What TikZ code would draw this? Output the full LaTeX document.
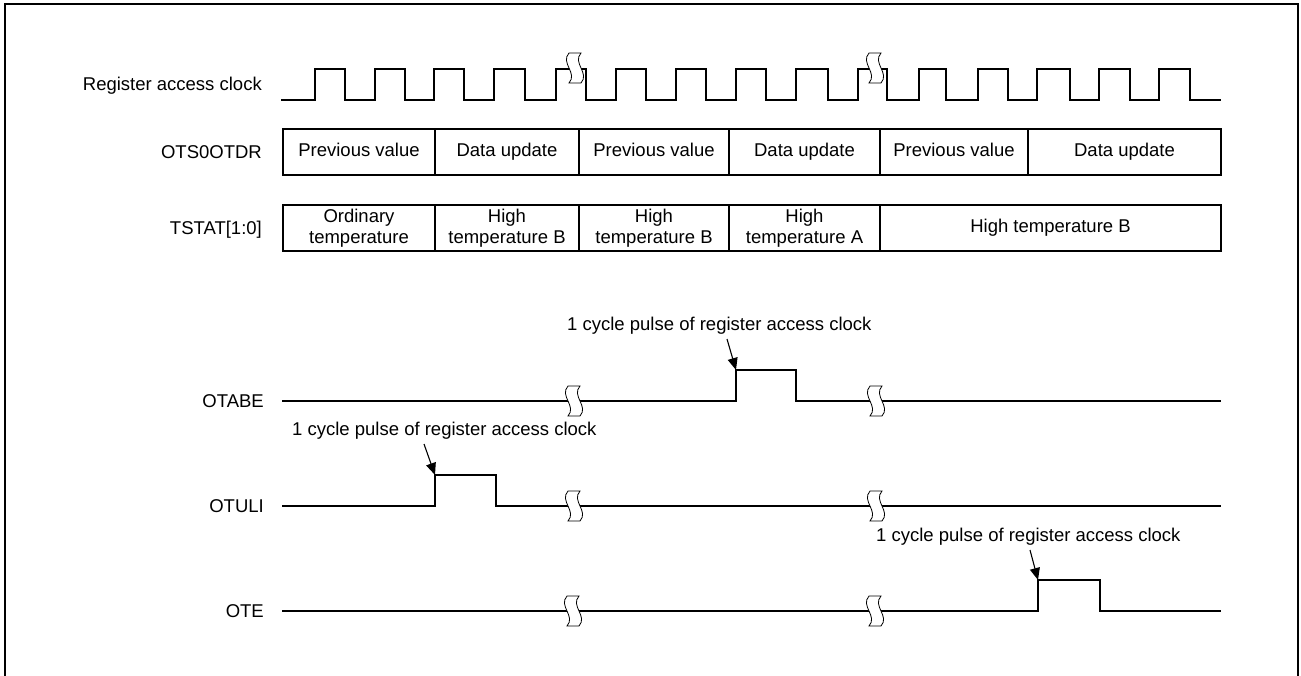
\documentclass[tikz,border=0pt]{standalone}
\usepackage{fontspec}
\setmainfont{Liberation Sans}
\usetikzlibrary{arrows.meta}
\tikzset{
  sig/.style={line width=2.2pt, line join=miter, line cap=rect},
  lbl/.style={anchor=base east, inner sep=0pt, font=\fontsize{18.5}{21}\selectfont},
  ann/.style={anchor=base west, inner sep=0pt, font=\fontsize{18.5}{21}\selectfont},
  cell/.style={draw, line width=2pt, inner sep=0pt, outer sep=0pt, minimum height=46pt, align=center, font=\fontsize{18.5}{21}\selectfont},
  brk/.style={fill=white, draw, line width=0.8pt},
  brkpic/.pic={\path[brk] (-6,-15) .. controls (-15,-5) and (3,5) .. (-6,15) -- (6,15) .. controls (15,5) and (-3,-5) .. (6,-15) -- cycle;},
  arr/.style={-{Triangle[length=12pt,width=10pt]}, line width=1.1pt},
}
\begin{document}
\begin{tikzpicture}[x=1pt,y=-1pt]
\useasboundingbox (0,0) rectangle (1301,675);
% frame
\draw[line width=2.5pt] (5,680) -- (5,4) -- (1298,4) -- (1298,680);

% labels
\node[lbl] (lclk) at (262,90.6) {Register access clock};
\node[lbl] (lotdr) at (262,158.6) {OTS0OTDR};
\node[lbl] (ltstat) at (262,234.6) {TSTAT[1:0]};
\node[lbl] (lotabe) at (264,407.6) {OTABE};
\node[lbl] (lotuli) at (264,512.6) {OTULI};
\node[lbl] (lote) at (264,617.6) {OTE};

% clock
\draw[sig] (282,100) -| (315,69) -| (345,100) -| (375,69) -| (405,100) -| (434,69) -| (464,100)
  -| (494,69) -| (525,100) -| (556,69) -| (586,100) -| (616,69) -| (646,100) -| (676,69)
  -| (706,100) -| (736,69) -| (766,100) -| (796,69) -| (828,100) -| (858,69) -| (887,100)
  -| (919,69) -| (946,100) -| (978,69) -| (1008,100) -| (1037,69) -| (1070,100) -| (1099,69)
  -| (1130,100) -| (1159,69) -| (1190,100) -- (1220,100);
\pic at (575,68) {brkpic};
\pic at (875,68) {brkpic};

% OTS0OTDR
\node[cell, minimum width=152pt] (d1) at (359,152) {Previous value\vphantom{p}};
\node[cell, minimum width=144pt] (d2) at (507,152) {Data update};
\node[cell, minimum width=150pt] (d3) at (654,152) {Previous value\vphantom{p}};
\node[cell, minimum width=151pt] (d4) at (804.5,152) {Data update};
\node[cell, minimum width=148pt] (d5) at (954,152) {Previous value\vphantom{p}};
\node[cell, minimum width=193pt] (d6) at (1124.5,152) {Data update};

% TSTAT
\node[cell, minimum width=152pt] (t1) at (359,228) {Ordinary\\temperature};
\node[cell, minimum width=144pt] (t2) at (507,228) {High\\temperature B};
\node[cell, minimum width=150pt] (t3) at (654,228) {High\\temperature B};
\node[cell, minimum width=151pt] (t4) at (804.5,228) {High\\temperature A};
\node[cell, minimum width=341pt] (t5) at (1050.5,228) {High temperature B};

% OTABE
\draw[sig] (283,401) -| (736,370) -| (796,401) -- (1220,401);
\pic at (574,401) {brkpic};
\pic at (876,401) {brkpic};
\node[ann] (n1) at (567,330.5) {1 cycle pulse of register access clock};
\coordinate (a1s) at (727,339);
\coordinate (a1e) at (736,370);
\draw[arr] (a1s) -- (a1e);

% OTULI
\draw[sig] (283,506) -| (435,475) -| (496,506) -- (1220,506);
\pic at (574,506) {brkpic};
\pic at (876,506) {brkpic};
\node[ann] (n2) at (292,435.5) {1 cycle pulse of register access clock};
\coordinate (a2s) at (424,444);
\coordinate (a2e) at (435,475);
\draw[arr] (a2s) -- (a2e);

% OTE
\draw[sig] (283,611) -| (1038,580) -| (1100,611) -- (1220,611);
\pic at (573,611) {brkpic};
\pic at (875,611) {brkpic};
\node[ann] (n3) at (876,541.5) {1 cycle pulse of register access clock};
\coordinate (a3s) at (1030,550);
\coordinate (a3e) at (1038,580);
\draw[arr] (a3s) -- (a3e);
\end{tikzpicture}
\end{document}
